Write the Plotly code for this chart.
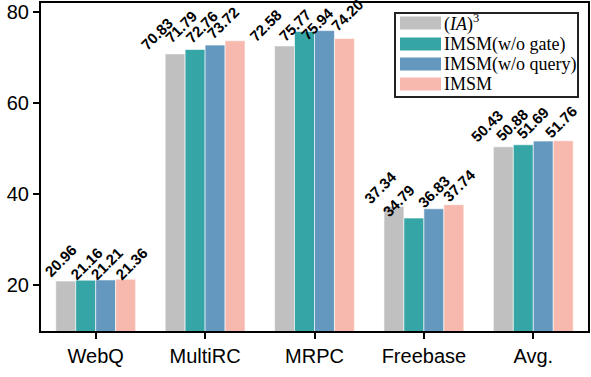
import plotly.graph_objects as go

categories = ["WebQ", "MultiRC", "MRPC", "Freebase", "Avg."]
series_names = ["(<i>IA</i>)<sup>3</sup>", "IMSM(w/o gate)", "IMSM(w/o query)", "IMSM"]
ia3 = [20.96, 70.83, 72.58, 37.34, 50.43]
wo_gate = [21.16, 71.79, 75.77, 34.79, 50.88]
wo_query = [21.21, 72.76, 75.94, 36.83, 51.69]
imsm = [21.36, 73.72, 74.20, 37.74, 51.76]
colors = ["#C0C0C0", "#35A5A5", "#6598BE", "#F7B9AE"]
y_ticks = [20, 40, 60, 80]

# label styling: pixel nudges of each value label (per series, per category)
label_dx = [[-5, -18, -19, -14, -16],
            [1, -14, -10, -15, -11],
            [1, -13, -7, 0, -10],
            [6, -12, 3, 5, -2]]
label_dy = [[2, 2, 2, 3, 1],
            [6, -1, 16, 5, 2],
            [6, 4, 15, 5, 4],
            [7, 4, -2, 3, 3]]

series = [ia3, wo_gate, wo_query, imsm]
bargap = 0.27
w = (1 - bargap) / len(series)

fig = go.Figure()
for name, vals, c in zip(series_names, series, colors):
    fig.add_trace(go.Bar(x=categories, y=vals, name=name, marker_color=c,
                         marker_line=dict(color="white", width=0.6),
                         showlegend=False))

annotations = []
for j, vals in enumerate(series):
    for i, v in enumerate(vals):
        annotations.append(dict(
            x=i + (j - 1.5) * w, y=v, xref="x", yref="y",
            text=f"<b>{v:.2f}</b>", showarrow=False, textangle=-45,
            xanchor="center", yanchor="bottom",
            xshift=label_dx[j][i], yshift=-label_dy[j][i],
            font=dict(family="Liberation Sans, Arial", size=15, color="black")))

# custom legend (paper coordinates)
shapes = []
lx0, lx1 = 395, 578
ly0, ly1 = 13, 97
W, H = 591, 377
ml, mr, mt, mb = 41, 3, 3, 46
pw, ph = W - ml - mr, H - mt - mb
def px(x):
    return (x - ml) / pw
def py(y):
    return 1 - (y - mt) / ph
shapes.append(dict(type="rect", xref="paper", yref="paper",
                   x0=px(lx0), x1=px(lx1), y0=py(ly1), y1=py(ly0),
                   line=dict(color="#222222", width=2), fillcolor="white"))
rows = [23, 44, 64, 84]
for k, (name, c) in enumerate(zip(series_names, colors)):
    yc = rows[k]
    shapes.append(dict(type="rect", xref="paper", yref="paper",
                       x0=px(400), x1=px(441), y0=py(yc + 6.5), y1=py(yc - 6.5),
                       line=dict(width=0), fillcolor=c))
    annotations.append(dict(x=px(442), y=py(yc), xref="paper", yref="paper",
                            text=name, showarrow=False, xanchor="left", yanchor="middle",
                            font=dict(family="Liberation Serif, Times New Roman", size=18, color="black")))

fig.update_layout(
    width=W, height=H, margin=dict(l=ml, r=mr, t=mt, b=mb),
    barmode="group", bargap=bargap, bargroupgap=0,
    plot_bgcolor="white", paper_bgcolor="white",
    font=dict(family="Liberation Sans, Arial", size=20, color="black"),
    annotations=annotations, shapes=shapes,
    xaxis=dict(showline=True, linecolor="black", linewidth=2, mirror=True,
               ticks="outside", ticklen=6, tickwidth=2, tickcolor="black",
               showgrid=False, range=[-0.5, 4.5], automargin=False),
    yaxis=dict(showline=True, linecolor="black", linewidth=2, mirror=True,
               ticks="outside", ticklen=6, tickwidth=2, tickcolor="black",
               showgrid=False, range=[10, 82], tickvals=y_ticks, zeroline=False,
               automargin=False),
)
fig.write_html("out.html", config={"displayModeBar": False},
               post_script="document.body.style.margin='0';document.body.style.overflow='hidden';")
